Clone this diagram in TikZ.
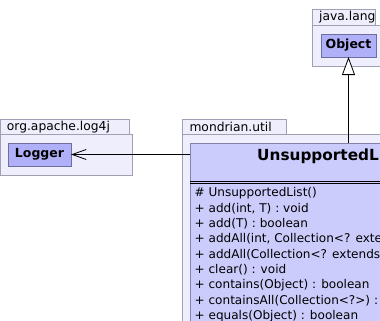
\documentclass[tikz,border=0pt]{standalone}
\usepackage{fontspec}
\setmainfont{DejaVu Sans}
\usetikzlibrary{arrows.meta}
\definecolor{pkgfill}{RGB}{238,238,252}
\definecolor{pkgline}{RGB}{160,160,180}
\definecolor{refill}{RGB}{176,176,248}
\definecolor{refline}{RGB}{110,110,160}
\definecolor{clsfill}{RGB}{204,204,252}
\definecolor{clsline}{RGB}{130,130,170}
\begin{document}
\begin{tikzpicture}[x=1pt,y=-1pt,
  box/.style={anchor=north west, inner sep=0pt, outer sep=0pt},
  pkgbox/.style={box, draw=pkgline, fill=pkgfill, line width=0.8pt},
  pkgname/.style={anchor=west, inner sep=0pt, font=\fontsize{12.3}{14}\selectfont},
  refclass/.style={box, draw=refline, fill=refill, line width=0.8pt,
    minimum height=23pt, font=\bfseries\fontsize{12.5}{14}\selectfont},
  umlclass/.style={box, draw=clsline, fill=clsfill, line width=0.8pt},
  oper/.style={anchor=west, inner sep=0pt, font=\fontsize{12.05}{14}\selectfont},
  link/.style={line width=0.8pt, black}
]
\useasboundingbox (0,0) rectangle (380,321);
\clip (0,0) rectangle (380,321);

% package java.lang
\node[pkgbox, minimum width=90pt, minimum height=41pt] (javabody) at (312,25) {};
\node[pkgbox, minimum width=63pt, minimum height=16pt] (javatab) at (312,9) {};
\node[pkgname] (javalbl) at (319,17.5) {java.lang};
\node[refclass, minimum width=55pt] (object) at (321,34) {Object};

% package org.apache.log4j
\node[pkgbox, minimum width=131.5pt, minimum height=41pt] (logbody) at (0.5,134) {};
\node[pkgbox, minimum width=129pt, minimum height=15pt] (logtab) at (0.5,119) {};
\node[pkgname] (loglbl) at (6.7,127) {org.apache.log4j};
\node[refclass, minimum width=63pt] (logger) at (8,143) {Logger};

% package mondrian.util
\node[pkgbox, minimum width=230pt, minimum height=220pt] (mubody) at (182.7,134) {};
\node[pkgbox, minimum width=103.3pt, minimum height=15pt] (mutab) at (182.7,119) {};
\node[pkgname] (mulbl) at (189.3,127) {mondrian.util};

% class UnsupportedList
\node[umlclass, minimum width=230pt, minimum height=220pt] (ulist) at (190,143) {};
\node[anchor=west, inner sep=0pt, font=\bfseries\fontsize{15.3}{18}\selectfont]
  (ulname) at (257,156) {UnsupportedList};
\draw[link] (190,181) -- (420,181);
\draw[link] (190,183.2) -- (420,183.2);
\foreach \t [count=\i from 0] in {%
  {\# UnsupportedList()},
  {+ add(int, T) : void},
  {+ add(T) : boolean},
  {+ addAll(int, Collection<? extends T>) : boolean},
  {+ addAll(Collection<? extends T>) : boolean},
  {+ clear() : void},
  {+ contains(Object) : boolean},
  {+ containsAll(Collection<?>) : boolean},
  {+ equals(Object) : boolean}}
  \node[oper] (op\i) at (194.5,{193+15.4*\i}) {\t};

% relations
\draw[link, -{Triangle[length=18pt, width=13pt, fill=white]}]
  (object.south |- ulist.north) -- (object.south);
\draw[link, -{Straight Barb[length=14pt, width=10pt]}]
  (logger.east -| ulist.west) -- (logger.east);
\end{tikzpicture}
\end{document}
